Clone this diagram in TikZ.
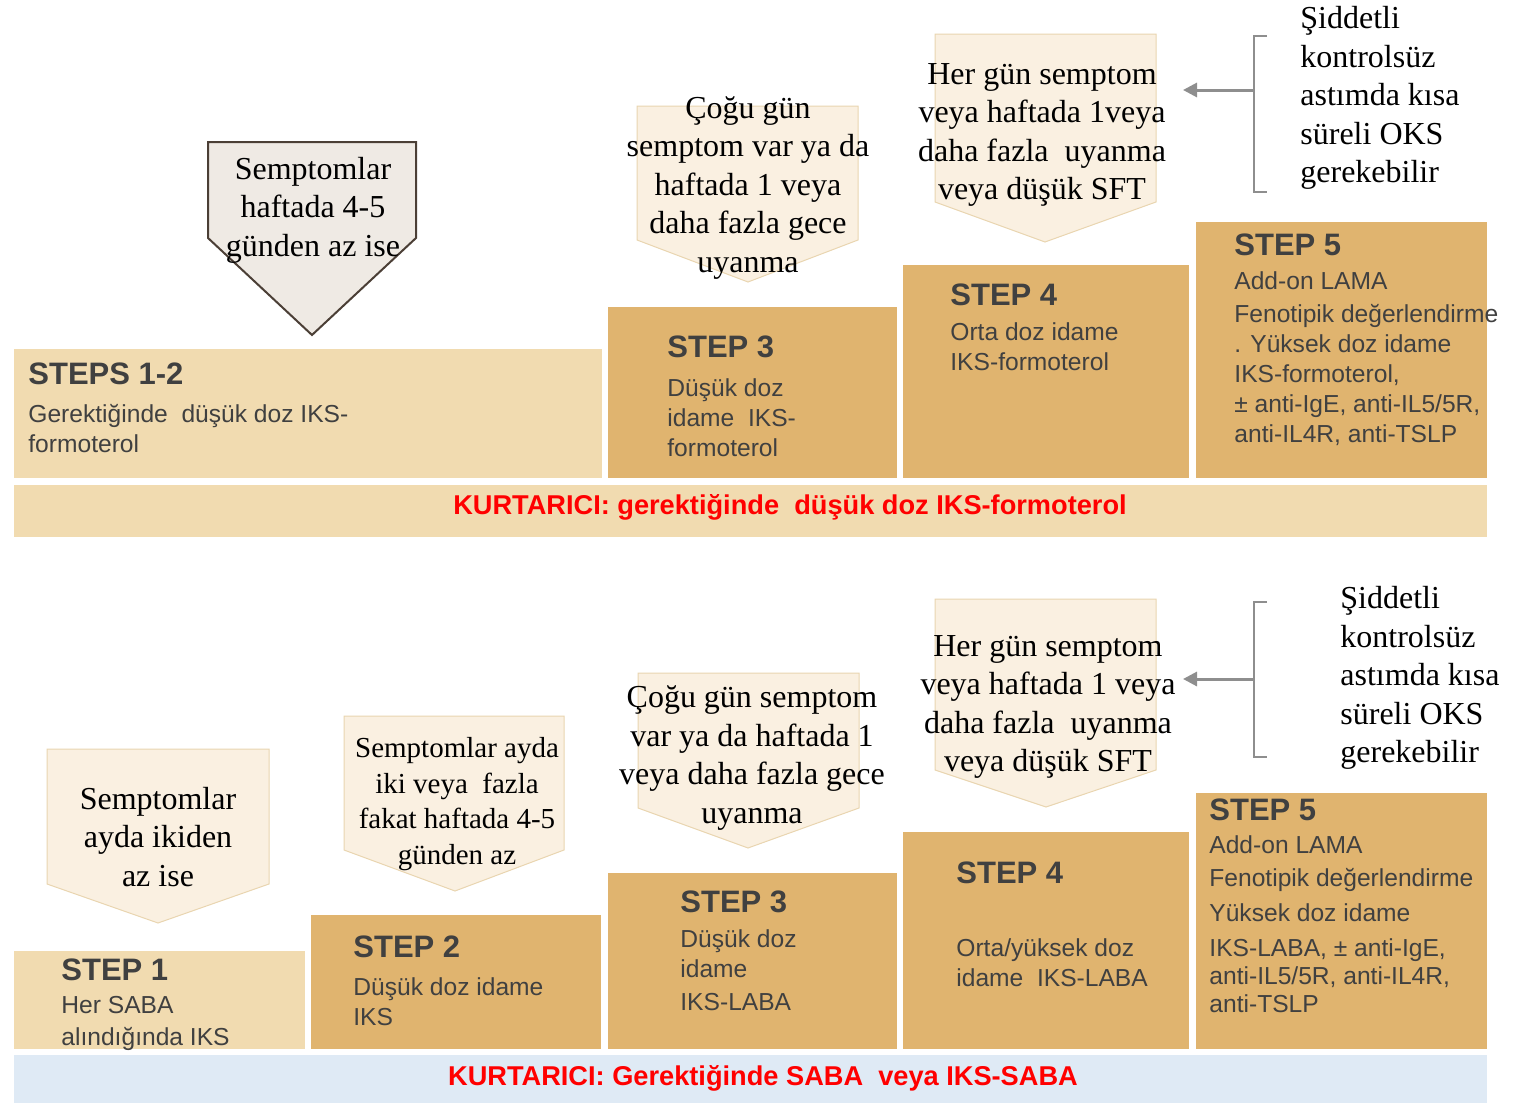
\documentclass[tikz,border=0pt]{standalone}
\usepackage{fontspec}
\setmainfont{Liberation Serif}
\setsansfont{Liberation Sans}
\usepackage{xcolor}
\usepackage{tikz}
\usetikzlibrary{arrows.meta}
\definecolor{paletan}{HTML}{F1DBB0}
\definecolor{darktan}{HTML}{E0B46F}
\definecolor{cream}{HTML}{FAF0E1}
\definecolor{creamline}{HTML}{E9D5B0}
\definecolor{greycue}{HTML}{EFEAE4}
\definecolor{cueline}{HTML}{4B3F36}
\definecolor{inkgrey}{HTML}{404040}
\definecolor{bracegrey}{HTML}{8E8E8E}
\definecolor{relief}{HTML}{DFEAF5}

\begin{document}
\begin{tikzpicture}[x=0.5pt,y=-0.5pt,
palebox/.style={fill=paletan},
tanbox/.style={fill=darktan},
cue/.style={fill=cream,draw=creamline,line width=0.5pt},
cuedark/.style={fill=greycue,draw=cueline,line width=1pt},
cuetext/.style={align=center,inner sep=0pt,font=\fontsize{16}{19.25}\selectfont},
steptitle/.style={anchor=west,inner sep=0pt,text=inkgrey,font=\sffamily\bfseries\fontsize{15.5}{18}\selectfont},
stepbody/.style={anchor=north west,align=left,inner sep=0pt,text=inkgrey,font=\sffamily\fontsize{12.3}{15}\selectfont},
reliever/.style={inner sep=0pt,text=red,font=\sffamily\bfseries\fontsize{13.6}{16}\selectfont},
note/.style={anchor=west,align=left,inner sep=0pt,font=\fontsize{16}{19.25}\selectfont},
brace/.style={draw=bracegrey,line width=1pt},
pointer/.style={draw=bracegrey,line width=1.5pt,-{Triangle[length=7pt,width=7pt]}}]
\useasboundingbox (0,0) rectangle (1527,1103);
\path[palebox] (14,349) rectangle (602,478);
\path[tanbox] (608,307) rectangle (897,478);
\path[tanbox] (903,265) rectangle (1189,478);
\path[tanbox] (1196,222) rectangle (1487,478);
\path[palebox] (14,485) rectangle (1487,537);
\draw[cuedark] (208,142) -- (416,142) -- (416,238) -- (312,335) -- (208,238) -- cycle;
\draw[cue] (637,106) -- (858,106) -- (858,240) -- (748,282) -- (637,240) -- cycle;
\draw[cue] (935,34) -- (1156,34) -- (1156,202) -- (1045,242) -- (935,202) -- cycle;
\node[cuetext] (cueA) at (313,210) {Semptomlar\\haftada 4-5\\günden az ise};
\node[cuetext] (cueB) at (748,188) {Çoğu gün\\semptom var ya da\\haftada 1 veya\\daha fazla gece\\uyanma};
\node[cuetext] (cueC) at (1042,135) {Her gün semptom\\veya haftada 1veya\\daha fazla\ \ uyanma\\veya düşük SFT};
\node[note] (warnA) at (1300,98) {Şiddetli\\kontrolsüz\\astımda kısa\\süreli OKS\\gerekebilir};
\draw[brace] (1267,36) -- (1254,36) -- (1254,192) -- (1267,192);
\coordinate (braceA) at (1254,90);
\coordinate (aimA) at (1183,90);
\draw[pointer] (braceA) -- (aimA);
\node[steptitle] (s12) at (28,374) {STEPS 1-2};
\node[stepbody] (s12txt) at (28,404) {Gerektiğinde\ \ düşük doz IKS-\\formoterol};
\node[steptitle] (s3) at (667,347) {STEP 3};
\node[stepbody] (s3txt) at (667,378) {Düşük doz\\idame\ \ IKS-\\formoterol};
\node[steptitle] (s4) at (950,295) {STEP 4};
\node[stepbody] (s4txt) at (950,322) {Orta doz idame\\IKS-formoterol};
\node[steptitle] (s5) at (1234,245) {STEP 5};
\node[stepbody] (s5txt) at (1234,271) {Add-on LAMA\\[1.5pt]Fenotipik değerlendirme\\. Yüksek doz idame\\IKS-formoterol,\\± anti-IgE, anti-IL5/5R,\\anti-IL4R, anti-TSLP};
\node[reliever] (relA) at (790,507) {KURTARICI: gerektiğinde\ \ düşük doz IKS-formoterol};
\path[palebox] (14,951) rectangle (305,1049);
\path[tanbox] (311,915) rectangle (601,1049);
\path[tanbox] (608,873) rectangle (897,1049);
\path[tanbox] (903,832) rectangle (1189,1049);
\path[tanbox] (1196,793) rectangle (1487,1049);
\path[fill=relief] (14,1055) rectangle (1487,1103);
\draw[cue] (47,749) -- (269,749) -- (269,884) -- (158,923) -- (47,884) -- cycle;
\draw[cue] (344,716) -- (564,716) -- (564,850) -- (455,891) -- (344,850) -- cycle;
\draw[cue] (638,673) -- (859,673) -- (859,808) -- (748,848) -- (638,808) -- cycle;
\draw[cue] (935,599) -- (1156,599) -- (1156,770) -- (1046,807) -- (935,770) -- cycle;
\node[cuetext] (cueD) at (158,837) {Semptomlar\\ayda ikiden\\az ise};
\node[cuetext,font=\fontsize{14.5}{17.75}\selectfont] (cueE) at (457,804) {Semptomlar ayda\\iki veya\ \ fazla\\fakat haftada 4-5\\günden az};
\node[cuetext] (cueF) at (752,758) {Çoğu gün semptom\\var ya da haftada 1\\veya daha fazla gece\\uyanma};
\node[cuetext] (cueG) at (1048,707) {Her gün semptom\\veya haftada 1 veya\\daha fazla\ \ uyanma\\veya düşük SFT};
\node[note] (warnB) at (1340,678) {Şiddetli\\kontrolsüz\\astımda kısa\\süreli OKS\\gerekebilir};
\draw[brace] (1267,602) -- (1254,602) -- (1254,757) -- (1267,757);
\coordinate (braceB) at (1254,679);
\coordinate (aimB) at (1183,679);
\draw[pointer] (braceB) -- (aimB);
\node[steptitle] (s1b) at (61,970) {STEP 1};
\node[stepbody] (s1btxt) at (61,996) {Her SABA\\[1pt]alındığında IKS};
\node[steptitle] (s2b) at (353,947) {STEP 2};
\node[stepbody] (s2btxt) at (353,977) {Düşük doz idame\\IKS};
\node[steptitle] (s3b) at (680,902) {STEP 3};
\node[stepbody] (s3btxt) at (680,929) {Düşük doz\\idame\\[1.5pt]IKS-LABA};
\node[steptitle] (s4b) at (956,873) {STEP 4};
\node[stepbody] (s4btxt) at (956,938) {Orta/yüksek doz\\idame\ \ IKS-LABA};
\node[steptitle] (s5b) at (1209,810) {STEP 5};
\node[stepbody,font=\sffamily\fontsize{12.3}{14}\selectfont] (s5btxt) at (1209,835) {Add-on LAMA\\[2.5pt]Fenotipik değerlendirme\\[3.5pt]Yüksek doz idame\\[3.5pt]IKS-LABA, ± anti-IgE,\\anti-IL5/5R, anti-IL4R,\\anti-TSLP};
\node[reliever] (relB) at (763,1078) {KURTARICI: Gerektiğinde SABA\ \ veya IKS-SABA};
\end{tikzpicture}
\end{document}
